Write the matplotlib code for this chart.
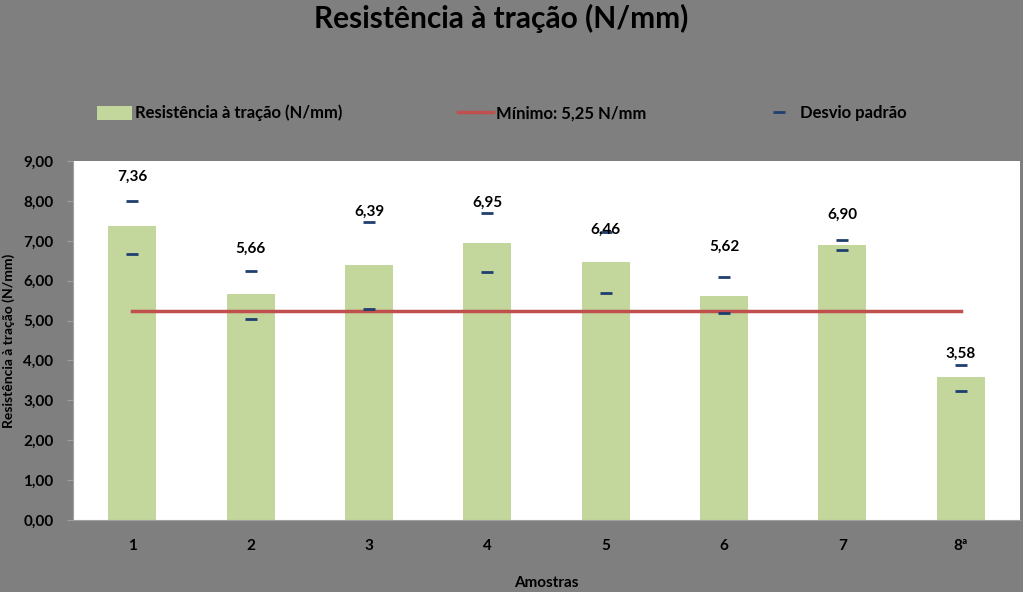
import matplotlib
matplotlib.use("Agg")
import matplotlib.pyplot as plt
from matplotlib.ticker import FuncFormatter

plt.rcParams['font.family'] = ['Lato', 'DejaVu Sans']

# dados
amostras = ['1', '2', '3', '4', '5', '6', '7', '8ª']
resistencia = [7.36, 5.66, 6.39, 6.95, 6.46, 5.62, 6.90, 3.58]
minimo = [5.25] * 8
desvio_sup = [8.01, 6.25, 7.48, 7.69, 7.22, 6.08, 7.01, 3.89]
desvio_inf = [6.68, 5.05, 5.28, 6.21, 5.70, 5.18, 6.76, 3.24]
rotulos = ['7,36', '5,66', '6,39', '6,95', '6,46', '5,62', '6,90', '3,58']

# altura dos rotulos (posicionados a mao no original)
altura_rotulo = [8.60, 6.79, 7.72, 7.95, 7.27, 6.84, 7.64, 4.16]

cinza = '#7f7f7f'
verde = '#c3d69b'
vermelho = '#c0504d'
azul = '#1f3f6f'

fig = plt.figure(figsize=(10.23, 5.92), dpi=100, facecolor=cinza)
ax = fig.add_axes([0.0714, 0.1216, 0.9256, 0.6064])
ax.set_facecolor('white')

x = range(len(amostras))
barras = ax.bar(x, resistencia, width=0.405, color=verde,
                label='Resistência à tração (N/mm)', zorder=2)
linha, = ax.plot(x, minimo, color=vermelho, lw=2.5, label='Mínimo: 5,25 N/mm', zorder=3)
dp, = ax.plot(x, desvio_sup, ls='none', marker='_', ms=8, mew=2, color=azul,
              label='Desvio padrão', zorder=4)
ax.plot(x, desvio_inf, ls='none', marker='_', ms=8, mew=2, color=azul, zorder=4)

for i, txt in enumerate(rotulos):
    ax.text(i, altura_rotulo[i], txt, ha='center', va='center',
            fontsize=11, fontweight='bold', color='black', zorder=5)

ax.set_xlim(-0.5, 7.5)
ax.set_ylim(0, 9)
ax.set_yticks(range(0, 10))
ax.yaxis.set_major_formatter(FuncFormatter(lambda v, p: f'{v:.2f}'.replace('.', ',')))
ax.set_xticks(list(x))
ax.set_xticklabels(amostras)

for s in ['top', 'right']:
    ax.spines[s].set_visible(False)
ax.spines['left'].set_color('#a0a0a0')
ax.spines['bottom'].set_color('#a0a0a0')
ax.tick_params(axis='y', length=4, color='#a0a0a0', pad=10, labelsize=11)
ax.tick_params(axis='x', length=0, pad=14, labelsize=11)
for lb in ax.get_xticklabels() + ax.get_yticklabels():
    lb.set_fontweight('bold')

ax.set_xlabel('Amostras', fontsize=11, fontweight='bold', labelpad=16)
ax.set_ylabel('Resistência à tração (N/mm)', fontsize=10, fontweight='bold', labelpad=6)

fig.text(0.49, 0.968, 'Resistência à tração (N/mm)', ha='center', va='center',
         fontsize=21.5, fontweight='bold', color='black')

leg = fig.legend(handles=[barras, linha, dp], loc='center left',
                 bbox_to_anchor=(0.080, 0.809), ncol=3,
                 frameon=False, fontsize=12, handlelength=2.1, handleheight=0.9,
                 columnspacing=6.9, handletextpad=0.2)
for t in leg.get_texts():
    t.set_fontweight('bold')

fig.savefig('out.png', dpi=100, facecolor=cinza)
